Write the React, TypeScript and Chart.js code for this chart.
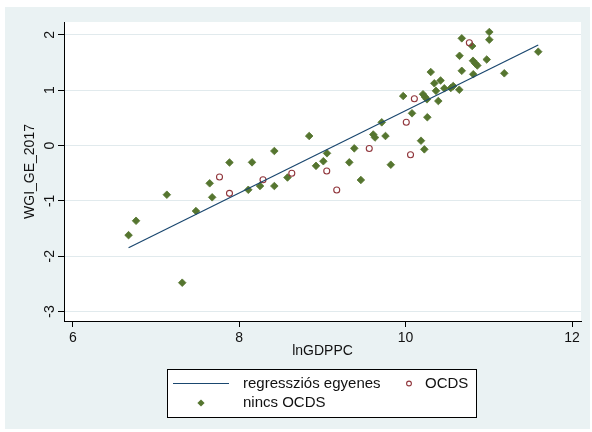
import { useEffect, useRef } from "react";
import { Chart, registerables } from "chart.js";

Chart.register(...registerables);

// lnGDPPC / WGI_GE_2017 pairs, countries without OCDS
const nincsX = [
  6.67, 6.76, 7.13, 7.315, 7.48, 7.645, 7.675, 7.883, 8.109, 8.154, 8.25, 8.422, 8.422, 8.58,
  8.841, 8.923, 9.011, 9.055, 9.323, 9.383, 9.462, 9.611, 9.632, 9.713, 9.758, 9.822, 9.971,
  10.077, 10.185, 10.225, 10.209, 10.233, 10.257, 10.261, 10.302, 10.345, 10.365, 10.393, 10.42,
  10.465, 10.543, 10.572, 10.645, 10.648, 10.675, 10.675, 10.8, 10.81, 10.838, 10.862, 10.813,
  10.975, 11.006, 11.006, 11.186, 11.594,
];
const nincsY = [
  -1.62, -1.36, -0.889, -2.479, -1.184, -0.683, -0.936, -0.307, -0.8, -0.304, -0.732, -0.099,
  -0.732, -0.578, 0.172, -0.367, -0.284, -0.141, -0.304, -0.051, -0.623, 0.199, 0.145, 0.419,
  0.172, -0.347, 0.894, 0.582, 0.087, -0.069, 0.927, 0.876, 0.835, 0.511, 1.328, 1.124, 0.988,
  0.804, 1.175, 1.034, 1.039, 1.075, 1.008, 1.621, 1.937, 1.35, 1.798, 1.532, 1.482, 1.446, 1.288,
  1.554, 2.051, 1.912, 1.305, 1.695,
];

// countries with OCDS
const ocdsX = [7.763, 7.883, 8.286, 8.632, 9.052, 9.172, 9.563, 10.008, 10.059, 10.105, 10.766];
const ocdsY = [-0.569, -0.864, -0.618, -0.502, -0.461, -0.804, -0.054, 0.421, -0.168, 0.846, 1.858];

// linear fit WGI = a + b * lnGDPPC
const fitIntercept = -6.809;
const fitSlope = 0.7439;

const xTicks = [6, 8, 10, 12];
const yTicks = [-3, -2, -1, 0, 1, 2];
const xRange = [5.894, 12.108];
const yRange = [-3.171, 2.232];

const xTitle = "lnGDPPC";
const yTitle = "WGI_GE_2017";
const legendLabels = ["regressziós egyenes", "OCDS", "nincs OCDS"];

const NAVY = "#1a476f";
const MAROON = "#90353b";
const GREEN = "#55752f";
const BG = "#eaf2f3";
const GRID = "#e1eaed";
const TEXT = "#111";
const FONT = "'Liberation Sans', Arial, sans-serif";

const fitXs = [Math.min(...nincsX, ...ocdsX), Math.max(...nincsX, ...ocdsX)];

const frame = {
  id: "frame",
  beforeDraw(chart: any) {
    const { ctx, chartArea: a, width, height } = chart;
    ctx.save();
    ctx.fillStyle = "#fff";
    ctx.fillRect(0, 0, width, height);
    ctx.fillStyle = BG;
    ctx.fillRect(5, 7, width - 7, height - 10);
    ctx.fillStyle = "#fff";
    ctx.fillRect(a.left, a.top, a.right - a.left, a.bottom - a.top);
    ctx.restore();
  },
  afterDraw(chart: any) {
    const { ctx } = chart;
    const y = chart.scales.y;
    ctx.save();
    ctx.fillStyle = TEXT;
    ctx.font = `14px ${FONT}`;
    ctx.textAlign = "center";
    ctx.textBaseline = "middle";
    for (const v of yTicks) {
      const py = y.getPixelForValue(v);
      ctx.save();
      ctx.translate(50, py);
      ctx.rotate(-Math.PI / 2);
      ctx.fillText(String(v), 0, 0);
      ctx.restore();
    }

    // legend box
    const bx = 167, by = 369, bw = 309, bh = 48;
    ctx.fillStyle = "#fff";
    ctx.fillRect(bx, by, bw, bh);
    ctx.strokeStyle = "#000";
    ctx.lineWidth = 1;
    ctx.strokeRect(bx + 0.5, by + 0.5, bw, bh);

    const row1 = by + 14.5;
    const row2 = by + 34;
    ctx.strokeStyle = NAVY;
    ctx.lineWidth = 1.2;
    ctx.beginPath();
    ctx.moveTo(bx + 6, row1);
    ctx.lineTo(bx + 62, row1);
    ctx.stroke();

    ctx.strokeStyle = MAROON;
    ctx.lineWidth = 1.1;
    ctx.beginPath();
    ctx.arc(bx + 242, row1, 2.4, 0, Math.PI * 2);
    ctx.stroke();

    ctx.fillStyle = GREEN;
    ctx.beginPath();
    const dx = bx + 34, r = 3.6;
    ctx.moveTo(dx - r, row2);
    ctx.lineTo(dx, row2 - r);
    ctx.lineTo(dx + r, row2);
    ctx.lineTo(dx, row2 + r);
    ctx.closePath();
    ctx.fill();

    ctx.fillStyle = TEXT;
    ctx.font = `15px ${FONT}`;
    ctx.textAlign = "left";
    ctx.fillText(legendLabels[0], bx + 76, row1);
    ctx.fillText(legendLabels[1], bx + 258, row1);
    ctx.fillText(legendLabels[2], bx + 76, row2);
    ctx.restore();
  },
};

export default function App() {
  const ref = useRef<HTMLCanvasElement | null>(null);

  useEffect(() => {
    const canvas = ref.current;
    if (!canvas) return;
    const chart = new Chart(canvas, {
      type: "scatter",
      data: {
        datasets: [
          {
            type: "line",
            label: legendLabels[0],
            data: fitXs.map((x) => ({ x, y: fitIntercept + fitSlope * x })),
            borderColor: NAVY,
            borderWidth: 1.2,
            pointRadius: 0,
            fill: false,
            order: 0,
          } as any,
          {
            label: legendLabels[1],
            data: ocdsX.map((x, i) => ({ x, y: ocdsY[i] })),
            pointStyle: "circle",
            pointRadius: 3,
            pointBorderWidth: 1.1,
            borderColor: MAROON,
            backgroundColor: "rgba(255,255,255,0)",
            order: 1,
          },
          {
            label: legendLabels[2],
            data: nincsX.map((x, i) => ({ x, y: nincsY[i] })),
            pointStyle: "rectRot",
            pointRadius: 3.8,
            pointBorderWidth: 0.8,
            borderColor: GREEN,
            backgroundColor: GREEN,
            order: 2,
          },
        ],
      },
      options: {
        responsive: false,
        animation: false,
        devicePixelRatio: 1,
        layout: { padding: { left: 0, top: 22, right: 11, bottom: 71 } },
        plugins: { legend: { display: false }, tooltip: { enabled: false } },
        scales: {
          x: {
            type: "linear",
            min: xRange[0],
            max: xRange[1],
            afterBuildTicks: (s: any) => {
              s.ticks = xTicks.map((value) => ({ value }));
            },
            afterFit: (s: any) => {
              s.height = 40;
            },
            grid: { drawOnChartArea: false, drawTicks: true, tickLength: 6, tickColor: "#000", tickWidth: 1 },
            border: { display: true, color: "#000", width: 1 },
            ticks: { color: TEXT, font: { family: FONT, size: 14 }, padding: 3, maxRotation: 0, autoSkip: false },
            title: {
              display: true,
              text: xTitle,
              color: TEXT,
              font: { family: FONT, size: 14 },
              padding: { top: 0, bottom: 1 },
            },
          },
          y: {
            type: "linear",
            min: yRange[0],
            max: yRange[1],
            afterBuildTicks: (s: any) => {
              s.ticks = yTicks.map((value) => ({ value }));
            },
            afterFit: (s: any) => {
              s.width = 64;
            },
            grid: { color: GRID, lineWidth: 1, drawTicks: true, tickLength: 6, tickColor: "#000", tickWidth: 1 },
            border: { display: true, color: "#000", width: 1 },
            ticks: { display: false },
            title: {
              display: true,
              text: yTitle,
              color: TEXT,
              font: { family: FONT, size: 14 },
              padding: { top: 22, bottom: 0 },
            },
          },
        },
      },
      plugins: [frame],
    });
    return () => chart.destroy();
  }, []);

  return (
    <canvas
      ref={ref}
      width={592}
      height={432}
      style={{ position: "fixed", left: 0, top: 0, width: 592, height: 432, display: "block" }}
    />
  );
}
